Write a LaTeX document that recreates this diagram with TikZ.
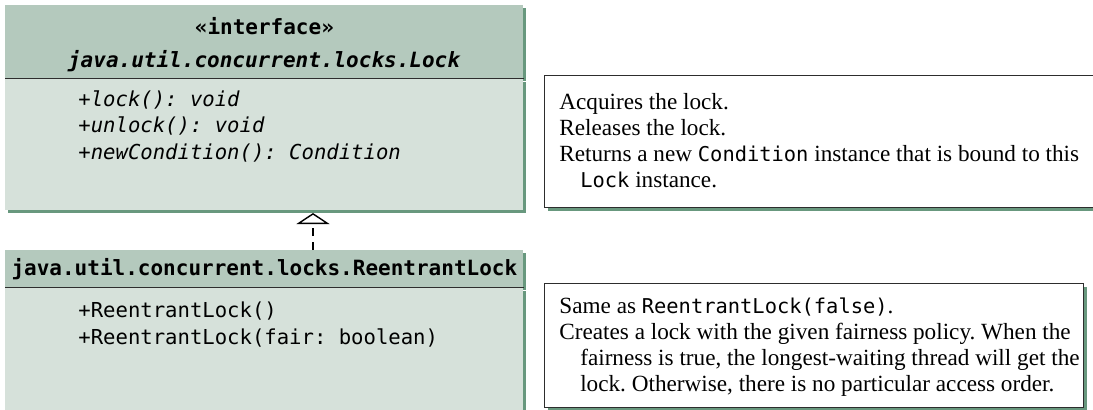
\documentclass[tikz,border=0pt]{standalone}
\usepackage{fontspec}
\setmainfont{Liberation Serif}
\setmonofont{DejaVu Sans Mono}
\newfontfamily\codefont[Scale=0.88]{DejaVu Sans Mono}
\usepackage{tikz}
\usetikzlibrary{arrows.meta,positioning,shadows,calc}
\definecolor{HeadSage}{RGB}{180,201,189}
\definecolor{BodySage}{RGB}{214,225,218}
\definecolor{ShadowGreen}{RGB}{104,152,126}
\definecolor{RuleGray}{RGB}{45,45,45}
\frenchspacing

\begin{document}
\begin{tikzpicture}[x=0.5pt,y=-0.5pt,>=Latex,
    umlshadow/.style={general shadow={fill=ShadowGreen,shadow xshift=1.5pt,shadow yshift=-1.5pt}},
    umlhead/.style={fill=HeadSage,umlshadow,inner sep=0pt,minimum width=259pt,anchor=north west},
    umlbody/.style={fill=BodySage,umlshadow,inner sep=0pt,minimum width=259pt,anchor=north west},
    oplist/.style={align=left,inner sep=0pt,anchor=base west,font=\ttfamily\fontsize{10.3}{13.25}\selectfont},
    notebox/.style={draw=RuleGray,line width=0.6pt,fill=white,umlshadow,inner sep=0pt,anchor=north west},
    notetext/.style={align=left,inner sep=0pt,anchor=base west,font=\fontsize{11.6}{13}\selectfont}]
  \path[use as bounding box] (0,0) rectangle (1093,409);
  \clip (0,0) rectangle (1093,409);
  % interface Lock
  \node[umlhead,minimum height=36.5pt] (lockhead) at (5,5) {};
  \node[umlbody,minimum height=65.5pt] (lockbody) at (lockhead.south west) {};
  \draw[RuleGray,line width=0.6pt] (lockhead.south west) -- (lockhead.south east);
  \node[align=center,inner sep=0pt,font=\ttfamily\bfseries\fontsize{10.5}{16.5}\selectfont]
        (lockname) at ($(lockhead.center)+(0,3)$)
        {«interface»\\\textit{java.util.concurrent.locks.Lock}};
  \node[oplist,font=\ttfamily\itshape\fontsize{10.3}{13.25}\selectfont] (lockops) at (78,159)
        {+lock(): void\\+unlock(): void\\+newCondition(): Condition};
  % class ReentrantLock
  \node[umlhead,minimum height=18.5pt,
        font=\ttfamily\bfseries\fontsize{10.5}{12}\selectfont] (relhead) at (5,250)
        {java.util.concurrent.locks.ReentrantLock};
  \node[umlbody,minimum height=70pt] (relbody) at (relhead.south west) {};
  \draw[RuleGray,line width=0.6pt] (relhead.south west) -- (relhead.south east);
  \node[oplist] (relops) at (78,344) {+ReentrantLock()\\+ReentrantLock(fair: boolean)};
  % implements
  \coordinate (lockfoot) at (313,213);
  \draw[line width=0.7pt,dash pattern=on 4pt off 3pt,
        -{Triangle[width=16.5pt,length=5.5pt,fill=white]}] (relhead.north -| lockfoot) -- (lockfoot);
  % notes
  \node[notebox,minimum width=280pt,minimum height=66pt] (lockdesc) at (544,75) {};
  \node[notetext] (lockdesctxt) at (559,187)
        {Acquires the lock.\\Releases the lock.\\
         Returns a new {\codefont Condition} instance that is bound to this\\
         \hspace*{0.9em}{\codefont Lock} instance.};
  \node[notebox,minimum width=269.5pt,minimum height=62pt] (reldesc) at (544,283) {};
  \node[notetext] (reldesctxt) at (559,391)
        {Same as {\codefont ReentrantLock(false)}.\\
         Creates a lock with the given fairness policy. When the\\
         \hspace*{0.9em}fairness is true, the longest-waiting thread will get the\\
         \hspace*{0.9em}lock. Otherwise, there is no particular access order.};
\end{tikzpicture}
\end{document}
